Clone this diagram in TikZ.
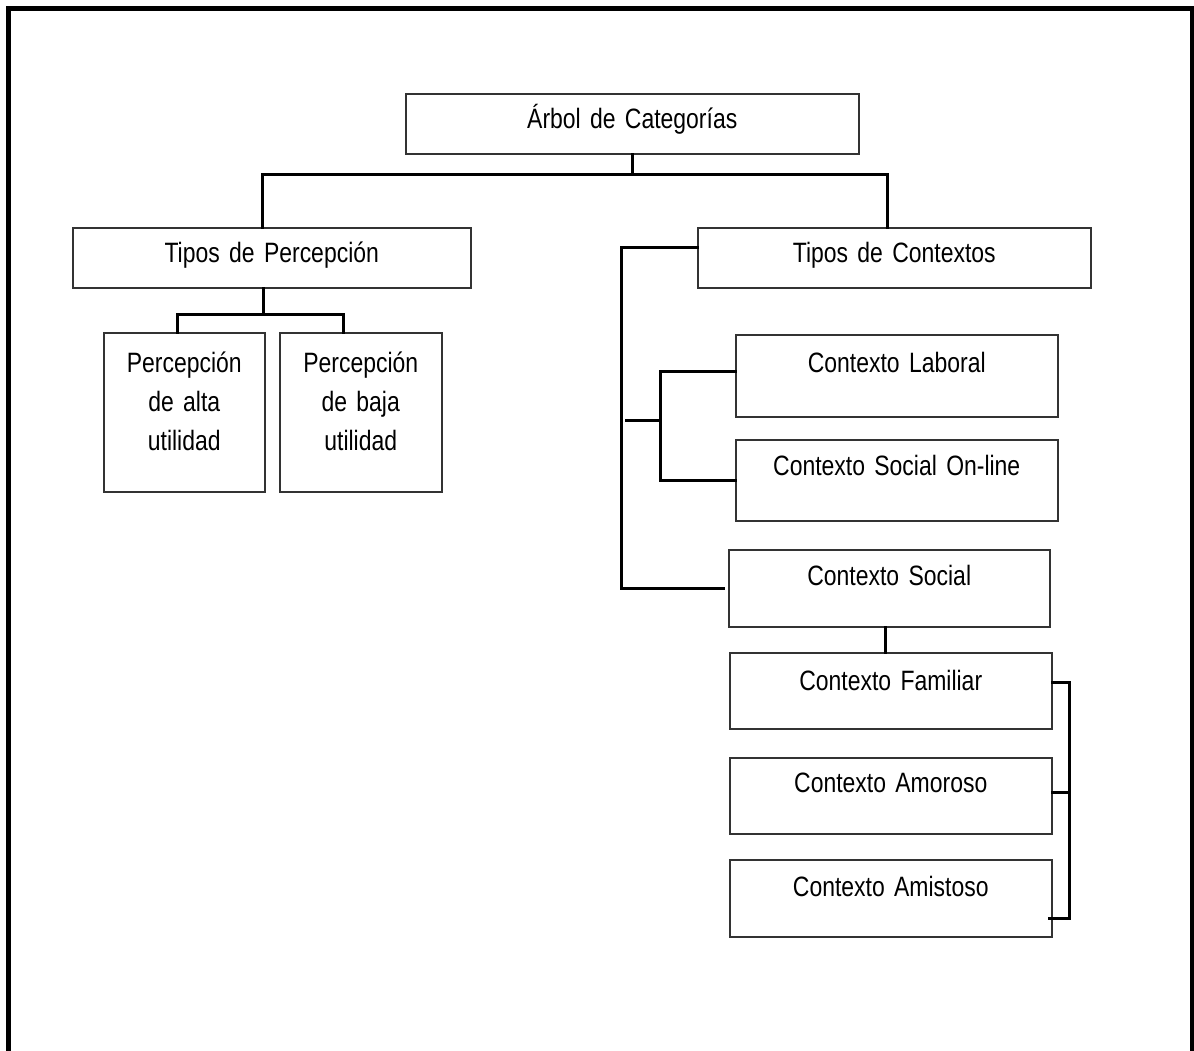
\documentclass[tikz,border=0pt]{standalone}
\usepackage{fontspec}
\setmainfont{Liberation Sans}[FakeStretch=0.82]
\newcommand\boxfont{\fontsize{14}{19.5}\selectfont\spaceskip=3.2pt plus 1pt\relax}
\begin{document}
\begin{tikzpicture}
        [
           x=0.5pt, y=-0.5pt,
           every node/.style={rectangle,draw=black!80,line width=0.75pt,inner sep=0pt,
             anchor=north west,align=center,font=\boxfont}
        ]
        \tikzstyle{conn}=[line width=1.5pt,line cap=rect]
        \tikzstyle{frame}=[line width=2.5pt]
        \useasboundingbox (0,0) rectangle (1194,1050);
        \draw[frame] (8,1060) -- (8,8) -- (1192,8) -- (1192,1060);

        \node[text width=226.5pt,text height=17.5pt,text depth=12.5pt] (root) at (405,93) {Árbol de Categorías};
        \node[text width=199pt,text height=17.5pt,text depth=12.5pt] (percep) at (72,227) {Tipos de Percepción};
        \node[text width=196.5pt,text height=17.5pt,text depth=12.5pt] (ctx) at (697,227) {Tipos de Contextos};
        \node[text width=80.5pt,text height=20pt,text depth=59.5pt] (alta) at (103,332) {Percepción\\de alta\\utilidad};
        \node[text width=81pt,text height=20pt,text depth=59.5pt] (baja) at (279,332) {Percepción\\de baja\\utilidad};
        \node[text width=161pt,text height=19pt,text depth=22pt] (laboral) at (735,334) {Contexto Laboral};
        \node[text width=161pt,text height=18pt,text depth=22.5pt] (online) at (735,439) {Contexto Social On-line};
        \node[text width=160.5pt,text height=18pt,text depth=20.5pt] (social) at (728,549) {Contexto Social};
        \node[text width=161pt,text height=19pt,text depth=19pt] (familiar) at (729,652) {Contexto Familiar};
        \node[text width=161pt,text height=17.5pt,text depth=20.5pt] (amoroso) at (729,757) {Contexto Amoroso};
        \node[text width=161pt,text height=18.5pt,text depth=20pt] (amistoso) at (729,859) {Contexto Amistoso};

        \draw[conn] (root.south) -- ++(0,20) coordinate (rk);
        \draw[conn] ([xshift=-4.5pt]percep.north) |- (rk) -| ([xshift=-3.25pt]ctx.north);
        \draw[conn] ([xshift=-4pt]percep.south) -- ++(0,26) coordinate (pk);
        \draw[conn] ([xshift=-3.25pt]alta.north) |- (pk) -| ([xshift=-8.5pt]baja.north);
        \draw[conn] ([yshift=5pt]ctx.west) -- ++(-76,0) |- ([xshift=-2.5pt]social.west);
        \draw[conn] ([yshift=2pt]laboral.west) -- ++(-75,0) coordinate (lk) |- (online.west);
        \draw[conn] (lk) ++(0,49) -- ++(-34,0);
        \draw[conn] ([xshift=-1.75pt]social.south) -- ([xshift=-1.75pt]social.south |- familiar.north);
        \draw[conn] ([yshift=4pt]familiar.east) -- ++(17,0) |- ([xshift=-1.5pt,yshift=-10.25pt]amistoso.east);
        \draw[conn] ([yshift=1.5pt]amoroso.east) -- ++(17,0);
    \end{tikzpicture}
\end{document}
